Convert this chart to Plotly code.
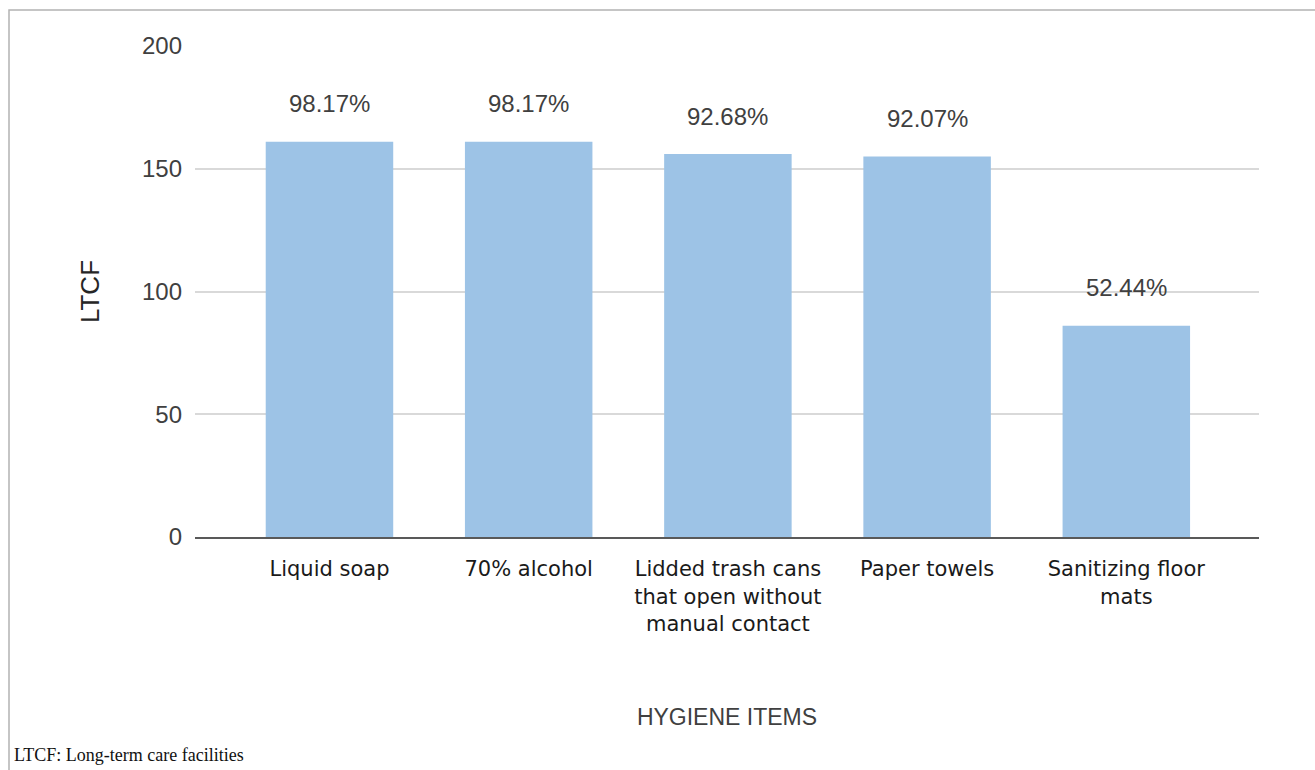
import plotly.graph_objects as go

categories = ["Liquid soap", "70% alcohol",
              "Lidded trash cans<br>that open without<br>manual contact",
              "Paper towels", "Sanitizing floor<br>mats"]
counts = [161, 161, 156, 155, 86]
pct_labels = ["98.17%", "98.17%", "92.68%", "92.07%", "52.44%"]
y_ticks = [0, 50, 100, 150, 200]

W, H = 1315, 770
L, R, T, B = 195, 56, 46, 233
pw, ph = W - L - R, H - T - B

def px_x(p):
    return (p - L) / pw

def px_y(p):
    return (H - B - p) / ph

fig = go.Figure()
fig.add_trace(go.Bar(
    x=list(range(len(categories))), y=counts,
    marker=dict(color="#9dc3e6", line=dict(width=0)),
    width=0.64, hoverinfo="skip", showlegend=False,
))

for i, (v, t) in enumerate(zip(counts, pct_labels)):
    fig.add_annotation(x=i, y=v, text=t, showarrow=False, yshift=38,
                       font=dict(family="Liberation Sans, Arial", size=24, color="#404040"))

fig.update_layout(
    width=W, height=H,
    margin=dict(l=L, r=R, t=T, b=B),
    plot_bgcolor="white", paper_bgcolor="white",
    xaxis=dict(
        tickmode="array", tickvals=list(range(len(categories))), ticktext=categories,
        range=[-0.675, 4.666], showgrid=False, zeroline=False,
        showline=True, linecolor="#595959", linewidth=2,
        ticks="", ticklabelstandoff=12,
        tickfont=dict(family="DejaVu Sans", size=21, color="#1a1a1a"),
        title=dict(text="HYGIENE ITEMS", standoff=74,
                   font=dict(family="Liberation Sans, Arial", size=23, color="#404040")),
    ),
    yaxis=dict(
        range=[0, 200], tickvals=y_ticks, showgrid=True, gridcolor="#d9d9d9", gridwidth=1.5,
        zeroline=False, showline=False, ticks="", ticklabelstandoff=12,
        tickfont=dict(family="Liberation Sans, Arial", size=24, color="#404040"),
        title=dict(text="LTCF", standoff=34,
                   font=dict(family="Liberation Sans, Arial", size=26, color="#262626")),
    ),
)

# frame around the figure (top and left edges visible)
fig.add_shape(type="rect", xref="paper", yref="paper",
              x0=px_x(9), x1=px_x(W + 10), y0=px_y(H + 10), y1=px_y(10),
              line=dict(color="#b3b3b3", width=1.5), fillcolor="rgba(0,0,0,0)", layer="below")

fig.add_annotation(xref="paper", yref="paper", x=px_x(12), y=px_y(755),
                   xanchor="left", yanchor="middle", showarrow=False,
                   text="LTCF: Long-term care facilities",
                   font=dict(family="Liberation Serif, Times New Roman", size=18, color="#111111"))

fig.write_html("out.html")
